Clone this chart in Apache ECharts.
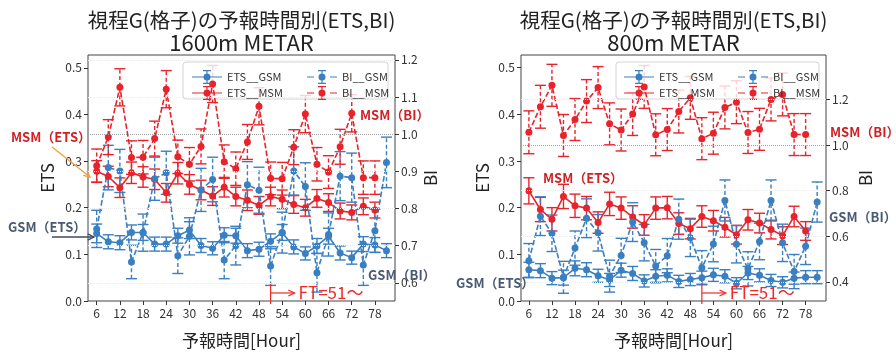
<!DOCTYPE html>
<html><head><meta charset="utf-8">
<script src="https://cdn.jsdelivr.net/npm/echarts@6/dist/echarts.min.js"></script>
<style>html,body{margin:0;padding:0;background:#fff}#c{width:896px;height:354px}</style>
</head><body><div id="c"></div>
<script>
// ---- categories / ticks ----
const hoursGSM = [6,9,12,15,18,21,24,27,30,33,36,39,42,45,48,51,54,57,60,63,66,69,72,75,78,81];
const hoursMSM = [6,9,12,15,18,21,24,27,30,33,36,39,42,45,48,51,54,57,60,63,66,69,72,75,78];
const xTicks = [6,12,18,24,30,36,42,48,54,60,66,72,78];
const etsTicks = [0.0,0.1,0.2,0.3,0.4,0.5];
const biTicks1600 = [0.6,0.7,0.8,0.9,1.0,1.1,1.2];
const biTicks800 = [0.4,0.6,0.8,1.0,1.2];

// ---- 1600m METAR ----
const etsGSM1600 = [0.145,0.127,0.125,0.147,0.147,0.122,0.122,0.140,0.152,0.119,0.113,0.141,0.140,0.108,0.111,0.128,0.147,0.116,0.102,0.118,0.139,0.103,0.093,0.122,0.120,0.108];
const etsGSM1600Err = [0.020,0.015,0.015,0.016,0.017,0.015,0.015,0.016,0.018,0.015,0.014,0.016,0.016,0.015,0.015,0.016,0.017,0.015,0.014,0.016,0.017,0.015,0.014,0.016,0.016,0.015];
const etsMSM1600 = [0.278,0.267,0.243,0.275,0.266,0.261,0.232,0.274,0.250,0.238,0.225,0.244,0.224,0.216,0.205,0.224,0.218,0.207,0.200,0.220,0.211,0.193,0.190,0.203,0.195];
const etsMSM1600Err = [0.023,0.022,0.021,0.023,0.022,0.022,0.020,0.023,0.021,0.021,0.020,0.021,0.020,0.022,0.019,0.020,0.020,0.019,0.018,0.019,0.019,0.017,0.016,0.018,0.017];
const biGSM1600 = [0.745,0.910,0.901,0.656,0.735,0.880,0.896,0.673,0.725,0.850,0.878,0.661,0.700,0.864,0.849,0.645,0.735,0.901,0.859,0.627,0.730,0.887,0.883,0.648,0.740,0.924];
const biGSM1600Err = [0.050,0.060,0.058,0.045,0.050,0.058,0.058,0.048,0.050,0.058,0.060,0.050,0.052,0.062,0.062,0.052,0.055,0.065,0.064,0.052,0.058,0.066,0.066,0.055,0.058,0.068];
const biMSM1600 = [0.915,0.992,1.126,0.937,0.938,0.988,1.121,0.939,0.919,0.967,1.135,0.926,0.907,0.979,1.075,0.881,0.880,0.965,1.054,0.919,0.898,0.966,1.056,0.883,0.883];
const biMSM1600Err = [0.045,0.047,0.050,0.045,0.045,0.047,0.050,0.045,0.045,0.047,0.050,0.045,0.045,0.047,0.050,0.044,0.044,0.047,0.050,0.045,0.044,0.047,0.050,0.045,0.045];

// ---- 800m METAR ----
const etsGSM800 = [0.067,0.065,0.049,0.050,0.070,0.067,0.054,0.045,0.066,0.059,0.043,0.053,0.055,0.042,0.046,0.050,0.056,0.053,0.038,0.060,0.055,0.044,0.040,0.049,0.051,0.051];
const etsGSM800Err = [0.016,0.015,0.014,0.016,0.016,0.015,0.014,0.014,0.015,0.015,0.013,0.014,0.014,0.013,0.013,0.014,0.014,0.014,0.012,0.014,0.014,0.013,0.012,0.013,0.014,0.014];
const etsMSM800 = [0.236,0.196,0.175,0.224,0.204,0.199,0.168,0.208,0.199,0.180,0.163,0.199,0.200,0.166,0.155,0.181,0.172,0.158,0.142,0.174,0.167,0.153,0.140,0.181,0.150];
const etsMSM800Err = [0.028,0.026,0.025,0.026,0.025,0.025,0.023,0.025,0.024,0.024,0.022,0.024,0.024,0.023,0.022,0.023,0.022,0.021,0.020,0.022,0.021,0.020,0.019,0.022,0.020];
const biGSM800 = [0.493,0.688,0.613,0.420,0.548,0.679,0.615,0.425,0.516,0.662,0.572,0.470,0.515,0.675,0.593,0.462,0.566,0.757,0.565,0.457,0.577,0.757,0.571,0.445,0.556,0.750];
const biGSM800Err = [0.075,0.085,0.080,0.070,0.075,0.085,0.080,0.070,0.075,0.085,0.080,0.072,0.075,0.088,0.082,0.075,0.078,0.090,0.082,0.075,0.080,0.090,0.082,0.075,0.080,0.088];
const biMSM800 = [1.056,1.168,1.262,1.042,1.112,1.193,1.252,1.093,1.066,1.136,1.255,1.045,1.068,1.147,1.207,1.028,1.052,1.165,1.188,1.055,1.069,1.200,1.222,1.046,1.046];
const biMSM800Err = [0.094,0.094,0.092,0.092,0.092,0.094,0.092,0.092,0.092,0.094,0.094,0.092,0.092,0.094,0.094,0.092,0.092,0.094,0.094,0.092,0.092,0.094,0.094,0.092,0.092];

const FONT = '"Noto Sans CJK JP","Noto Sans",sans-serif';
const BLUE = '#3a7fc0', RED = '#e8232b';
const MSMC = '#d11f23', GSMC = '#4a5a74';

function pairs(xs, ys){ return xs.map((x,i)=>[x, ys[i]]); }
function errSeries(xs, ys, es, xi, yi, color, dashed){
  return {
    type:'custom', name:'err', xAxisIndex:xi, yAxisIndex:yi, silent:true,
    data: xs.map((x,i)=>[x, ys[i]-es[i], ys[i]+es[i]]),
    encode:{x:0, y:[1,2]},
    renderItem(params, api){
      const x = api.value(0);
      const lo = api.coord([x, api.value(1)]);
      const hi = api.coord([x, api.value(2)]);
      const w = 5.5;
      const st = {stroke:color, lineWidth:1.4};
      const vst = dashed ? {stroke:color, lineWidth:1.4, lineDash:[4,2.5]} : st;
      return {type:'group', children:[
        {type:'line', shape:{x1:lo[0],y1:lo[1],x2:hi[0],y2:hi[1]}, style:vst},
        {type:'line', shape:{x1:lo[0]-w,y1:lo[1],x2:lo[0]+w,y2:lo[1]}, style:st},
        {type:'line', shape:{x1:hi[0]-w,y1:hi[1],x2:hi[0]+w,y2:hi[1]}, style:st}
      ]};
    }
  };
}
function lineSeries(name, xs, ys, xi, yi, color, dashed){
  return {type:'line', name, xAxisIndex:xi, yAxisIndex:yi, data:pairs(xs,ys),
    symbol:'circle', symbolSize:7, showSymbol:true,
    itemStyle:{color, borderWidth:0}, lineStyle:{color, width:1.6, type: dashed ? [5.5,2.4] : 'solid'},
    emphasis:{disabled:true}};
}
function gridLines(xi, yi, ticks){
  return {type:'line', xAxisIndex:xi, yAxisIndex:yi, data:[], silent:true,
    markLine:{silent:true, symbol:['none','none'], label:{show:false}, animation:false,
      data: ticks.map(v=>({yAxis:v, lineStyle:{color: v===1.0 ? '#a0a0a0' : '#ebebeb', type:'dotted', width:1}}))}};
}
function xAxisDef(gi, min, max){
  return {type:'value', gridIndex:gi, min, max,
    name:'予報時間[Hour]', nameLocation:'middle', nameGap:31,
    nameTextStyle:{fontFamily:FONT, fontSize:17, color:'#222'},
    axisLine:{show:false}, splitLine:{show:false},
    axisTick:{show:true, length:4, customValues:xTicks, lineStyle:{color:'#333'}},
    axisLabel:{customValues:xTicks, fontFamily:FONT, fontSize:12, color:'#333', margin:6}};
}
function yAxisDef(gi, min, max, ticks, name, pos, gap, dec){
  return {type:'value', gridIndex:gi, min, max, position:pos,
    name, nameLocation:'middle', nameGap:gap, nameRotate:90,
    nameTextStyle:{fontFamily:FONT, fontSize:17, color:'#222'},
    axisLine:{show:false}, splitLine:{show:false},
    axisTick:{show:true, length:4, customValues:ticks, lineStyle:{color:'#333'}},
    axisLabel:{customValues:ticks, fontFamily:FONT, fontSize:12, color:'#333', margin:6,
      formatter: v => Number(v).toFixed(dec)}};
}

const iconSolid = 'path://M0 6.4H30V7.6H0Z M11.5 7A3.5 3.5 0 1 1 18.5 7A3.5 3.5 0 1 1 11.5 7Z M14.4 0H15.6V14H14.4Z M11 0H19V1.2H11Z M11 12.8H19V14H11Z';
const iconDash = 'path://M0 6.4H7V7.6H0Z M23 6.4H30V7.6H23Z M11.5 7A3.5 3.5 0 1 1 18.5 7A3.5 3.5 0 1 1 11.5 7Z M14.4 0H15.6V3.5H14.4Z M14.4 10.5H15.6V14H14.4Z M11 0H19V1.2H11Z M11 12.8H19V14H11Z';

function legendDef(left, names, icon){
  return {orient:'vertical', left, top:65, itemWidth:30, itemHeight:14, itemGap:2,
    selectedMode:false, textStyle:{fontFamily:FONT, fontSize:11, color:'#333'},
    itemStyle:{borderWidth:0}, lineStyle:{width:0},
    data: names.map(n=>({name:n, icon}))};
}

const series = [
  gridLines(0,1,biTicks1600),
  gridLines(1,3,biTicks800),
  // 1600m
  errSeries(hoursGSM, etsGSM1600, etsGSM1600Err, 0, 0, BLUE, false),
  lineSeries('ETS__GSM', hoursGSM, etsGSM1600, 0, 0, BLUE, false),
  errSeries(hoursMSM, etsMSM1600, etsMSM1600Err, 0, 0, RED, false),
  lineSeries('ETS__MSM', hoursMSM, etsMSM1600, 0, 0, RED, false),
  errSeries(hoursGSM, biGSM1600, biGSM1600Err, 0, 1, BLUE, true),
  lineSeries('BI__GSM', hoursGSM, biGSM1600, 0, 1, BLUE, true),
  errSeries(hoursMSM, biMSM1600, biMSM1600Err, 0, 1, RED, true),
  lineSeries('BI__MSM', hoursMSM, biMSM1600, 0, 1, RED, true),
  // 800m
  errSeries(hoursGSM, etsGSM800, etsGSM800Err, 1, 2, BLUE, false),
  lineSeries('ETS__GSM', hoursGSM, etsGSM800, 1, 2, BLUE, false),
  errSeries(hoursMSM, etsMSM800, etsMSM800Err, 1, 2, RED, false),
  lineSeries('ETS__MSM', hoursMSM, etsMSM800, 1, 2, RED, false),
  errSeries(hoursGSM, biGSM800, biGSM800Err, 1, 3, BLUE, true),
  lineSeries('BI__GSM', hoursGSM, biGSM800, 1, 3, BLUE, true),
  errSeries(hoursMSM, biMSM800, biMSM800Err, 1, 3, RED, true),
  lineSeries('BI__MSM', hoursMSM, biMSM800, 1, 3, RED, true)
];

const chart = echarts.init(document.getElementById('c'), null, {renderer:'canvas'});
chart.setOption({
  animation:false,
  backgroundColor:'#fff',
  grid:[
    {left:88, top:55, width:307, height:255, show:true, borderColor:'#444', borderWidth:1, backgroundColor:'transparent'},
    {left:521, top:55, width:305, height:253, show:true, borderColor:'#444', borderWidth:1, backgroundColor:'transparent'}
  ],
  xAxis:[ xAxisDef(0, 3.75, 83.2), xAxisDef(1, 3.95, 83.3) ],
  yAxis:[
    yAxisDef(0, 0, 0.5275, etsTicks, 'ETS', 'left', 32, 1),
    yAxisDef(0, 0.551, 1.213, biTicks1600, 'BI', 'right', 27, 1),
    yAxisDef(1, 0, 0.527, etsTicks, 'ETS', 'left', 30, 1),
    yAxisDef(1, 0.316, 1.395, biTicks800, 'BI', 'right', 31, 1)
  ],
  legend:[
    legendDef(187, ['ETS__GSM','ETS__MSM'], iconSolid),
    legendDef(302, ['BI__GSM','BI__MSM'], iconDash),
    legendDef(619, ['ETS__GSM','ETS__MSM'], iconSolid),
    legendDef(733, ['BI__GSM','BI__MSM'], iconDash)
  ],
  series
});

// ---- annotations ----
function arrowHead(tx, ty, fx, fy, color, lw){
  const a = Math.atan2(ty-fy, tx-fx), L = 7, s = 0.45;
  return {type:'polyline', z:6, shape:{points:[[tx-L*Math.cos(a-s), ty-L*Math.sin(a-s)],[tx,ty],[tx-L*Math.cos(a+s), ty-L*Math.sin(a+s)]]},
    style:{stroke:color, lineWidth:lw, fill:null}};
}
function arrow(fx, fy, tx, ty, color, lw){
  return [{type:'line', z:6, shape:{x1:fx,y1:fy,x2:tx,y2:ty}, style:{stroke:color, lineWidth:lw}}, arrowHead(tx,ty,fx,fy,color,lw)];
}
function txt(x, y, text, color, font, align){
  return {type:'text', z:7, x, y, style:{text, fill:color, font, verticalAlign:'middle', align: align || 'left'}};
}
function ftMarker(gi){
  const px = chart.convertToPixel({xAxisIndex:gi}, 51);
  const by = chart.convertToPixel({yAxisIndex: gi===0 ? 0 : 2}, 0);
  const c = '#f02828', y = by - 8;
  return [
    {type:'line', z:6, shape:{x1:px,y1:by-17,x2:px,y2:by+3}, style:{stroke:c, lineWidth:1.2}},
    ...arrow(px, y, px+24, y, c, 1.2),
    txt(px+28, y, 'FT=51〜', c, '17px ' + FONT)
  ];
}
const bold = 'bold 13px ' + FONT;
const t1Font = '20.5px ' + FONT;
const t2Font = '22px ' + FONT;
const graphics = [
  txt(241.5, 20, '視程G(格子)の予報時間別(ETS,BI)', '#222', t1Font, 'center'),
  txt(241.5, 43, '1600m METAR', '#222', t2Font, 'center'),
  txt(673.5, 20, '視程G(格子)の予報時間別(ETS,BI)', '#222', t1Font, 'center'),
  txt(673.5, 43, '800m METAR', '#222', t2Font, 'center'),
  {type:'rect', z:3, shape:{x:183, y:62, width:205, height:37, r:3}, style:{fill:'rgba(255,255,255,0.8)', stroke:'#d4d4d4', lineWidth:1}},
  {type:'rect', z:3, shape:{x:616, y:62, width:203, height:37, r:3}, style:{fill:'rgba(255,255,255,0.8)', stroke:'#d4d4d4', lineWidth:1}},
  // left panel labels
  txt(11, 137, 'MSM（ETS）', MSMC, bold),
  ...arrow(52, 147, 90, 177, '#f2a03c', 1.3),
  txt(8, 227, 'GSM（ETS）', GSMC, bold),
  ...arrow(52, 237, 94, 237, '#3e4a60', 1.3),
  txt(360, 115, 'MSM（BI）', MSMC, bold),
  txt(368, 275, 'GSM（BI）', GSMC, bold),
  // right panel labels
  txt(830, 132, 'MSM（BI）', MSMC, bold),
  txt(543, 178, 'MSM（ETS）', MSMC, bold),
  txt(829, 217, 'GSM（BI）', GSMC, bold),
  txt(456, 283, 'GSM（ETS）', GSMC, bold),
  ...ftMarker(0),
  ...ftMarker(1)
];
chart.setOption({graphic: graphics});
</script></body></html>
